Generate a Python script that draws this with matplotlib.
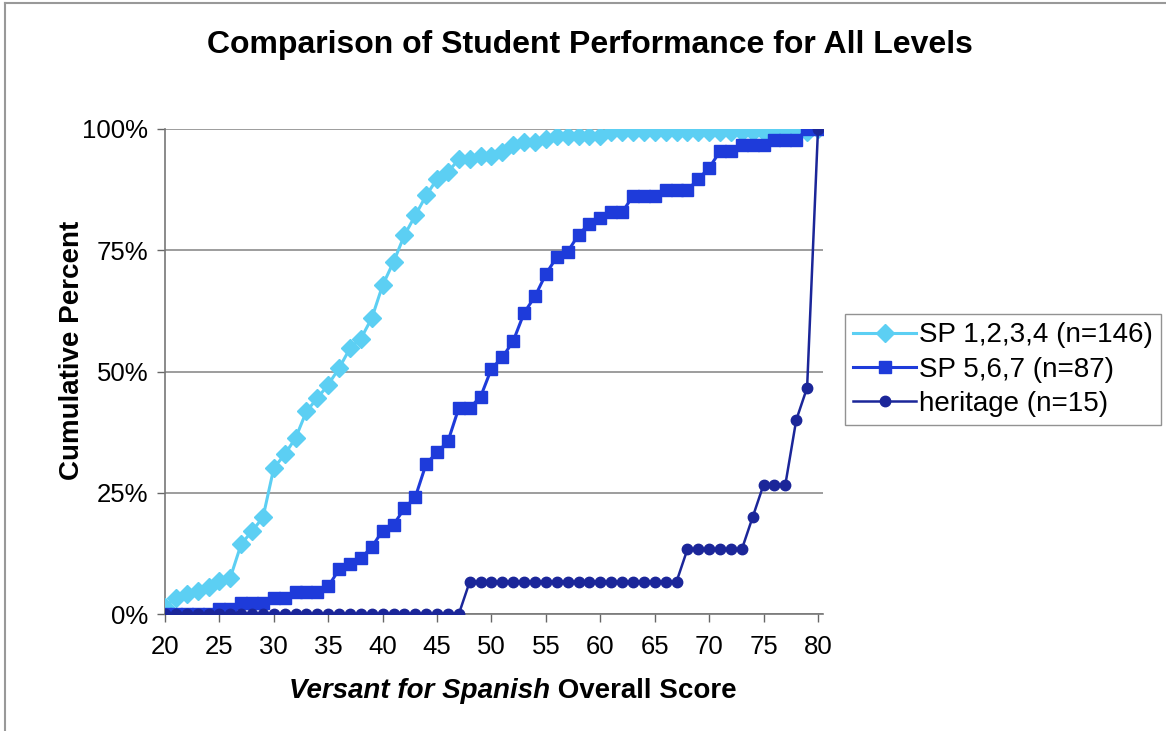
import matplotlib
matplotlib.use("Agg")
import matplotlib.pyplot as plt
from matplotlib.lines import Line2D

plt.rcParams['font.family'] = ['Liberation Sans', 'DejaVu Sans']

# Versant score (x) and cumulative percent for each group
scores = list(range(20, 81))

sp1234 = [1.4, 3.4, 4.1, 4.8, 5.5, 6.8, 7.5, 14.4, 17.1, 19.9,
          30.1, 32.9, 36.3, 41.8, 44.5, 47.3, 50.7, 54.8, 56.8, 61.0,
          67.8, 72.6, 78.1, 82.2, 86.3, 89.7, 91.1, 93.8, 93.8, 94.5,
          94.5, 95.2, 96.6, 97.3, 97.3, 97.9, 98.6, 98.6, 98.6, 98.6,
          98.6, 99.3, 99.3, 99.3, 99.3, 99.3, 99.3, 99.3, 99.3, 99.3,
          99.3, 99.3, 99.3, 99.3, 99.3, 99.3, 99.3, 99.3, 99.3, 99.3,
          100.0]

sp567 = [0, 0, 0, 0, 0, 1.1, 1.1, 2.3, 2.3, 2.3,
         3.4, 3.4, 4.6, 4.6, 4.6, 5.7, 9.2, 10.3, 11.5, 13.8,
         17.2, 18.4, 21.8, 24.1, 31.0, 33.3, 35.6, 42.5, 42.5, 44.8,
         50.6, 52.9, 56.3, 62.1, 65.5, 70.1, 73.6, 74.7, 78.2, 80.5,
         81.6, 82.8, 82.8, 86.2, 86.2, 86.2, 87.4, 87.4, 87.4, 89.7,
         92.0, 95.4, 95.4, 96.6, 96.6, 96.6, 97.7, 97.7, 97.7, 100.0,
         100.0]

heritage = [0] * 28 + [6.67] * 20 + [13.33] * 6 + [20.0] + [26.67] * 3 + [40.0, 46.67, 100.0]

labels = ['SP 1,2,3,4 (n=146)', 'SP 5,6,7 (n=87)', 'heritage (n=15)']
x_ticks = list(range(20, 81, 5))
y_ticks = [0, 25, 50, 75, 100]
y_ticklabels = ['0%', '25%', '50%', '75%', '100%']

c_light = '#5CCFF3'
c_mid = '#1E3BDA'
c_dark = '#1B2699'

W, H = 1166, 731
fig = plt.figure(figsize=(W / 100, H / 100), dpi=100)
ax = fig.add_axes([165 / W, 1 - 614 / H, (823 - 165) / W, (614 - 129) / H])

ax.plot(scores, sp1234, color=c_light, lw=2.2, marker='D', ms=9, mec=c_light, label=labels[0], zorder=3)
ax.plot(scores, sp567, color=c_mid, lw=2.2, marker='s', ms=9, mec=c_mid, label=labels[1], zorder=4)
ax.plot(scores, heritage, color=c_dark, lw=1.8, marker='o', ms=7.5, mec=c_dark, label=labels[2], zorder=5)

ax.set_xlim(20, 80.46)
ax.set_ylim(0, 100)
ax.set_xticks(x_ticks)
ax.set_yticks(y_ticks)
ax.set_yticklabels(y_ticklabels)
ax.tick_params(labelsize=18.5, colors='#666666', labelcolor='black', length=6, width=1)
ax.tick_params(axis='x', pad=9)
ax.tick_params(axis='y', pad=6)
ax.grid(axis='y', color='#8c8c8c', lw=1.2, zorder=0)
ax.set_axisbelow(True)
for s in ['top', 'right']:
    ax.spines[s].set_visible(False)
for s in ['left', 'bottom']:
    ax.spines[s].set_color('#777777')
    ax.spines[s].set_linewidth(1.2)

fig.text(590 / W, 1 - 45 / H, 'Comparison of Student Performance for All Levels',
         ha='center', va='center', fontsize=23, fontweight='bold')
fig.text(72 / W, 1 - 350 / H, 'Cumulative Percent', rotation=90,
         ha='center', va='center', fontsize=20, fontweight='bold')
fig.text(550 / W, 1 - 691 / H, 'Versant for Spanish', ha='right', va='center',
         fontsize=20, fontweight='bold', style='italic')
fig.text(550 / W, 1 - 691 / H, ' Overall Score', ha='left', va='center',
         fontsize=20, fontweight='bold')

leg = fig.legend(loc='upper left', bbox_to_anchor=(845 / W, 1 - 314 / H),
                 fontsize=20, frameon=True, fancybox=False, handlelength=2.25,
                 handletextpad=0.1, borderpad=0.3, labelspacing=0.3, borderaxespad=0)
leg.get_frame().set_edgecolor('#777777')
leg.get_frame().set_linewidth(1)

# thin border around the chart
fig.add_artist(Line2D([5 / W, 5 / W], [0, 1 - 3 / H], color='#999999', lw=1.5))
fig.add_artist(Line2D([5 / W, 1], [1 - 3 / H, 1 - 3 / H], color='#999999', lw=1.5))

fig.savefig('out.png', dpi=100)
